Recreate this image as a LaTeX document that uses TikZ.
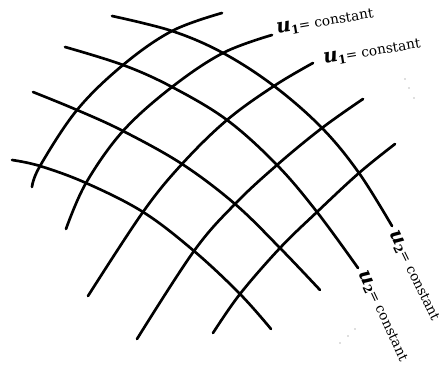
\documentclass[tikz,border=0pt]{standalone}
\usepackage{fontspec}
\setmainfont{DejaVu Serif}
\begin{document}
\begin{tikzpicture}[x=0.6pt,y=-0.6pt,
  gridline/.style={line width=1.6pt,line cap=round},
  lbl/.style={inner sep=0pt,font=\fontsize{8.2}{10}\selectfont},
  faint/.style={fill=black!25,draw=none}]
\useasboundingbox (0,0) rectangle (439,365);
\newcommand{\uvar}[1]{{\fontsize{12}{12}\selectfont\textbf{\textit{u}}}\raisebox{-0.4ex}{\fontsize{7}{7}\selectfont\textbf{#1}}}
% family u1 = constant (lower-left to upper-right)
\draw[gridline] plot[smooth,tension=0.6] coordinates {(32,187) (40,166) (77,110) (123,65) (172,31) (222,13)};
\draw[gridline] plot[smooth,tension=0.6] coordinates {(66,229) (86,183) (123,131) (172,87) (223,53) (272,35)};
\draw[gridline] plot[smooth,tension=0.6] coordinates {(88,296) (143,212) (182,164) (227,120) (274,86) (313,63)};
\draw[gridline] plot[smooth,tension=0.6] coordinates {(137,339) (194,251) (235,204) (277,165) (322,128) (363,99)};
\draw[gridline] plot[smooth,tension=0.6] coordinates {(213,333) (240,294) (280,248) (317,212) (359,173) (395,144)};
% family u2 = constant (upper-left to lower-right)
\draw[gridline] plot[smooth,tension=0.6] coordinates {(112,16) (172,31) (223,53) (274,86) (322,128) (359,173) (392,226)};
\draw[gridline] plot[smooth,tension=0.6] coordinates {(65,47) (123,65) (172,87) (227,120) (277,165) (317,212) (358,268)};
\draw[gridline] plot[smooth,tension=0.6] coordinates {(33,92) (77,110) (123,131) (182,164) (235,204) (280,248) (320,290)};
\draw[gridline] plot[smooth,tension=0.6] coordinates {(12,160) (40,166) (86,183) (143,212) (194,251) (240,294) (271,329)};
% labels
\node[lbl,rotate=9.5] (l1) at (325,22) {\uvar{1}= constant};
\node[lbl,rotate=9.5] (l2) at (372,52) {\uvar{1}= constant};
\node[lbl,rotate=-64] (l3) at (414,276) {\uvar{2}= constant};
\node[lbl,rotate=-65] (l4) at (383,316) {\uvar{2}= constant};
% faint dots
\foreach \p in {(405,79),(409,88),(414,98),(355,329),(348,336),(340,343)}
  \fill[faint] \p circle (0.8);
\end{tikzpicture}
\end{document}
